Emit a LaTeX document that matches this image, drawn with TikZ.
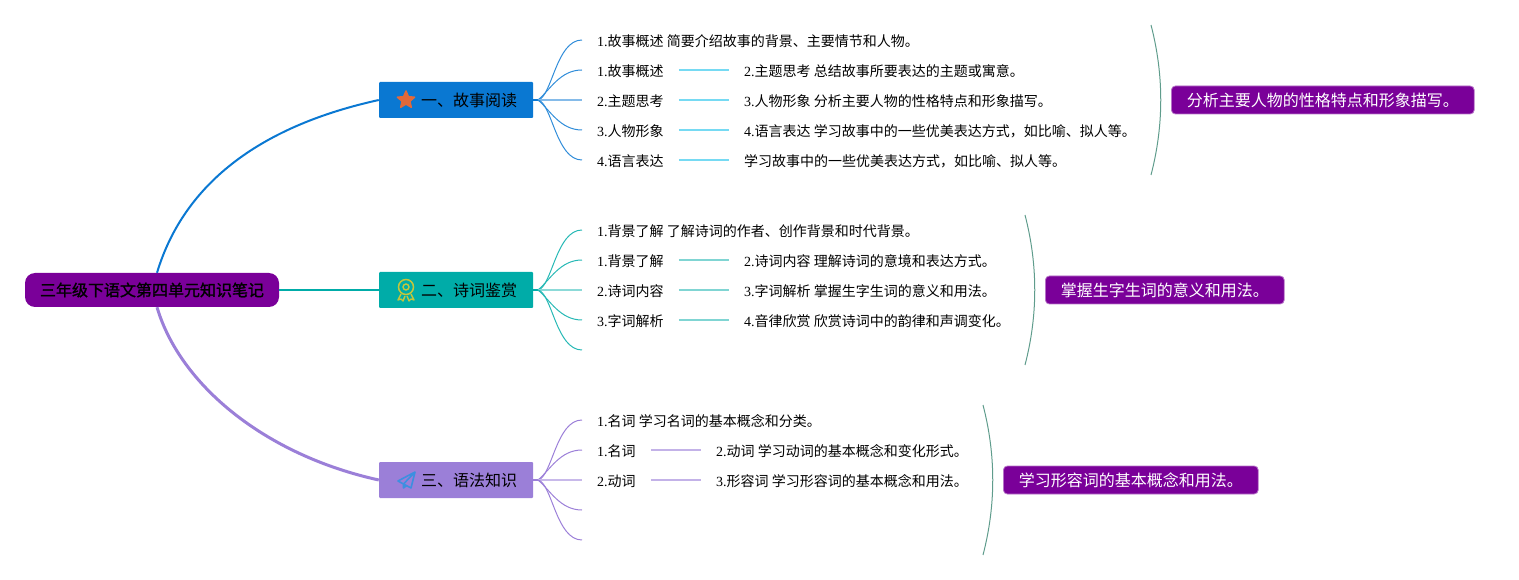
\documentclass[tikz,border=0pt]{standalone}
\usepackage{fontspec}
\setmainfont{Noto Sans CJK SC}
\newfontfamily\lat{Liberation Serif}
\newfontfamily\rootfont[FakeBold=1.2]{Noto Sans CJK SC}
\usetikzlibrary{shapes.geometric,calc}
\newcommand{\La}[1]{{\lat #1}}
\definecolor{rootpurple}{HTML}{7A0099}
\definecolor{cblue}{HTML}{0A78D2}
\definecolor{cteal}{HTML}{00ACA8}
\definecolor{cviolet}{HTML}{9B7FD8}
\definecolor{bracec}{HTML}{5F9C8C}
\definecolor{staror}{HTML}{E2693A}
\definecolor{rosette}{HTML}{C4C63C}
\definecolor{planeb}{HTML}{3D8FE0}
\tikzset{
  x=1pt,y=-1pt,
  rootbox/.style={fill=rootpurple,rounded corners=10pt,minimum width=254pt,minimum height=34pt,inner sep=0pt,font=\rootfont\fontsize{16}{18}\selectfont,text=black},
  branchbox/.style={rounded corners=1pt,minimum width=154pt,minimum height=36pt,inner sep=0pt,font=\fontsize{16}{18}\selectfont,text=black},
  leaf/.style={anchor=west,inner xsep=15pt,inner ysep=0pt,text height=13pt,text depth=0pt,font=\fontsize{14}{16}\selectfont,text=black},
  sumbox/.style={fill=rootpurple,draw=rootpurple!55!white,line width=0.8pt,rounded corners=4pt,minimum height=28pt,inner ysep=0pt,inner xsep=15.4pt,font=\fontsize{16}{18}\selectfont,text=white,anchor=west},
  maincurve/.style={line width=2pt},
  fanline/.style={line width=1pt},
  midline/.style={line width=2pt},
  linkline/.style={line width=1.2pt},
  bracket/.style={draw=bracec,line width=1pt},
}
\begin{document}
\begin{tikzpicture}
\useasboundingbox (0,0) rectangle (1519,580);
% root and branches
\node[rootbox] (root) at (152,290) {三年级下语文第四单元知识笔记};
\node[branchbox,fill=cblue] (b1) at (456,100) {\hspace*{26pt}一、故事阅读};
\node[branchbox,fill=cteal] (b2) at (456,290) {\hspace*{26pt}二、诗词鉴赏};
\node[branchbox,fill=cviolet] (b3) at (456,480) {\hspace*{26pt}三、语法知识};
\draw[cblue,maincurve] ([xshift=5pt]root.north) .. controls (185,180) and (265,125) .. (b1.west);
\draw[cteal,maincurve] (root.east) -- (b2.west);
\draw[cviolet,line width=3pt] ([xshift=5pt]root.south) .. controls (180,385) and (265,455) .. (b3.west);
% icons
\node[star,star points=5,star point ratio=2.2,fill=staror,draw=staror,line join=round,line width=1.5pt,inner sep=0pt,minimum size=18pt] (ic1) at (406,100) {};
\node[circle,draw=rosette,line width=1.5pt,minimum size=15pt,inner sep=0pt] (ic2) at (406,287) {};
\node[circle,draw=rosette,line width=1.4pt,minimum size=6pt,inner sep=0pt] (ic2b) at (406,287) {};
\draw[rosette,line width=1.4pt,line join=round] (401,294) -- (398,300) -- (401,299) -- (403,301) -- (405,296);
\draw[rosette,line width=1.4pt,line join=round] (411,294) -- (414,300) -- (411,299) -- (409,301) -- (407,296);
\draw[planeb,line width=1.6pt,line join=round] (415,472) -- (398,481) -- (403.5,484) -- (415,472) -- (411,488) -- (403.5,484) -- (403.5,488) -- (406,486);
% hubs
\coordinate (h1) at (538,100);
\coordinate (h2) at (538,290);
\coordinate (h3) at (538,480);
\draw[cblue,line width=2.5pt] (b1.east) -- (h1);
\draw[cteal,line width=2.5pt] (b2.east) -- (h2);
\draw[cviolet,line width=2.5pt] (b3.east) -- (h3);
% branch 1 leaves
\node[leaf] (a1) at (582,40) {\La{1.}故事概述 简要介绍故事的背景、主要情节和人物。};
\node[leaf] (a2) at (582,70) {\La{1.}故事概述};
\node[leaf] (a3) at (582,100) {\La{2.}主题思考};
\node[leaf] (a4) at (582,130) {\La{3.}人物形象};
\node[leaf] (a5) at (582,160) {\La{4.}语言表达};
\node[leaf] (a2r) at (729,70) {\La{2.}主题思考 总结故事所要表达的主题或寓意。};
\node[leaf] (a3r) at (729,100) {\La{3.}人物形象 分析主要人物的性格特点和形象描写。};
\node[leaf] (a4r) at (729,130) {\La{4.}语言表达 学习故事中的一些优美表达方式，如比喻、拟人等。};
\node[leaf] (a5r) at (729,160) {学习故事中的一些优美表达方式，如比喻、拟人等。};
\draw[cblue!85!white,fanline] (h1) .. controls (552,97) and (556,40) .. (a1.west);
\draw[cblue!85!white,fanline] (h1) .. controls (550,90) and (560,70) .. (a2.west);
\draw[cblue!50!white,midline] (h1) -- (a3.west);
\draw[cblue!85!white,fanline] (h1) .. controls (550,110) and (560,130) .. (a4.west);
\draw[cblue!85!white,fanline] (h1) .. controls (552,103) and (556,160) .. (a5.west);
\foreach \l/\r in {a2/a2r,a3/a3r,a4/a4r,a5/a5r} \draw[cblue!50!cyan!55!white,linkline] (\l.east) -- (\r.west);
% branch 2 leaves
\node[leaf] (c1) at (582,230) {\La{1.}背景了解 了解诗词的作者、创作背景和时代背景。};
\node[leaf] (c2) at (582,260) {\La{1.}背景了解};
\node[leaf] (c3) at (582,290) {\La{2.}诗词内容};
\node[leaf] (c4) at (582,320) {\La{3.}字词解析};
\coordinate (c5) at (582,350);
\node[leaf] (c2r) at (729,260) {\La{2.}诗词内容 理解诗词的意境和表达方式。};
\node[leaf] (c3r) at (729,290) {\La{3.}字词解析 掌握生字生词的意义和用法。};
\node[leaf] (c4r) at (729,320) {\La{4.}音律欣赏 欣赏诗词中的韵律和声调变化。};
\draw[cteal!85!white,fanline] (h2) .. controls (552,287) and (556,230) .. (c1.west);
\draw[cteal!85!white,fanline] (h2) .. controls (550,280) and (560,260) .. (c2.west);
\draw[cteal!45!white,midline] (h2) -- (c3.west);
\draw[cteal!85!white,fanline] (h2) .. controls (550,300) and (560,320) .. (c4.west);
\draw[cteal!85!white,fanline] (h2) .. controls (552,293) and (556,350) .. (c5);
\foreach \l/\r in {c2/c2r,c3/c3r,c4/c4r} \draw[cteal!50!white,linkline] (\l.east) -- (\r.west);
% branch 3 leaves
\node[leaf] (d1) at (582,420) {\La{1.}名词 学习名词的基本概念和分类。};
\node[leaf] (d2) at (582,450) {\La{1.}名词};
\node[leaf] (d3) at (582,480) {\La{2.}动词};
\coordinate (d4) at (582,510);
\coordinate (d5) at (582,540);
\node[leaf] (d2r) at (701,450) {\La{2.}动词 学习动词的基本概念和变化形式。};
\node[leaf] (d3r) at (701,480) {\La{3.}形容词 学习形容词的基本概念和用法。};
\draw[cviolet,fanline] (h3) .. controls (552,477) and (556,420) .. (d1.west);
\draw[cviolet,fanline] (h3) .. controls (550,470) and (560,450) .. (d2.west);
\draw[cviolet!55!white,midline] (h3) -- (d3.west);
\draw[cviolet,fanline] (h3) .. controls (550,490) and (560,510) .. (d4);
\draw[cviolet,fanline] (h3) .. controls (552,483) and (556,540) .. (d5);
\foreach \l/\r in {d2/d2r,d3/d3r} \draw[cviolet!60!white,linkline] (\l.east) -- (\r.west);
% summaries
\coordinate (s1a) at (1151,25); \coordinate (s1b) at (1151,175);
\coordinate (s2a) at (1025,215); \coordinate (s2b) at (1025,365);
\coordinate (s3a) at (983,405); \coordinate (s3b) at (983,555);
\draw[bracket] (s1a) .. controls (1164,75) and (1164,125) .. (s1b);
\draw[bracket] (s2a) .. controls (1038,265) and (1038,315) .. (s2b);
\draw[bracket] (s3a) .. controls (996,455) and (996,505) .. (s3b);
\node[sumbox] (t1) at (1171,100) {分析主要人物的性格特点和形象描写。};
\node[sumbox] (t2) at (1045,290) {掌握生字生词的意义和用法。};
\node[sumbox] (t3) at (1003,480) {学习形容词的基本概念和用法。};
\end{tikzpicture}
\end{document}
